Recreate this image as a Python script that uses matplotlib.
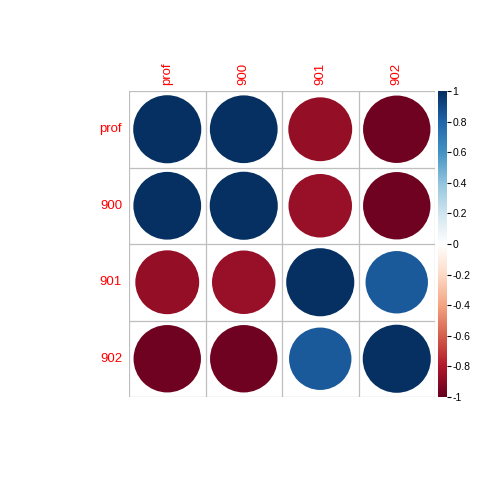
import numpy as np
import matplotlib.pyplot as plt
from matplotlib.colors import LinearSegmentedColormap
from matplotlib.patches import Circle

plt.rcParams['font.family'] = ['Liberation Sans', 'DejaVu Sans']

labels = ["prof", "900", "901", "902"]
corr = np.array([
    [1.00, 0.99, -0.88, -0.98],
    [0.99, 1.00, -0.87, -0.98],
    [-0.88, -0.87, 1.00, 0.84],
    [-0.98, -0.98, 0.84, 1.00],
])
cbar_ticks = [-1, -0.8, -0.6, -0.4, -0.2, 0, 0.2, 0.4, 0.6, 0.8, 1]

# corrplot default palette COL2('RdBu')
rdbu = ["#67001F", "#B2182B", "#D6604D", "#F4A582", "#FDDBC7", "#FFFFFF",
        "#D1E5F0", "#92C5DE", "#4393C3", "#2166AC", "#053061"]
cmap = LinearSegmentedColormap.from_list("corrplot", rdbu, N=200)

W, H = 480, 480
fig = plt.figure(figsize=(4.8, 4.8), dpi=100)

# grid area in pixels
gx0, gx1, gy0, gy1 = 129, 435, 91, 397
ax = fig.add_axes([gx0 / W, 1 - gy1 / H, (gx1 - gx0) / W, (gy1 - gy0) / H])
n = len(labels)
ax.set_xlim(0, n)
ax.set_ylim(n, 0)
ax.set_aspect("auto")

for i in range(n):
    for j in range(n):
        r = corr[i, j]
        color = cmap((r + 1) / 2)
        rad = 0.445 * np.sqrt(abs(r))
        ax.add_patch(Circle((j + 0.5, i + 0.5), rad, facecolor=color, edgecolor="none"))

for k in range(n + 1):
    ax.axhline(k, color="#BEBEBE", lw=0.9)
    ax.axvline(k, color="#BEBEBE", lw=0.9)

for s in ax.spines.values():
    s.set_visible(False)
ax.set_xticks([])
ax.set_yticks([])

for k, lab in enumerate(labels):
    ax.text(-0.09, k + 0.5, lab, color="red", fontsize=9.5, ha="right", va="center")
    ax.text(k + 0.5, -0.08, lab, color="red", fontsize=9.5, ha="center", va="bottom",
            rotation=90)

# colour bar
cx0, cx1 = 438, 447
cax = fig.add_axes([cx0 / W, 1 - gy1 / H, (cx1 - cx0) / W, (gy1 - gy0) / H])
grad = np.linspace(-1, 1, 200).reshape(-1, 1)
cax.imshow(grad, cmap=cmap, vmin=-1, vmax=1, aspect="auto", origin="lower",
           extent=[0, 1, -1, 1])
cax.set_xticks([])
cax.yaxis.tick_right()
cax.set_yticks(cbar_ticks)
cax.set_yticklabels([f"{t:g}" for t in cbar_ticks], fontsize=7.5)
cax.tick_params(axis="y", length=3, width=0.8, pad=1)
for s in cax.spines.values():
    s.set_visible(False)
cax.set_ylim(-1, 1)

fig.savefig("out.png", dpi=100)
